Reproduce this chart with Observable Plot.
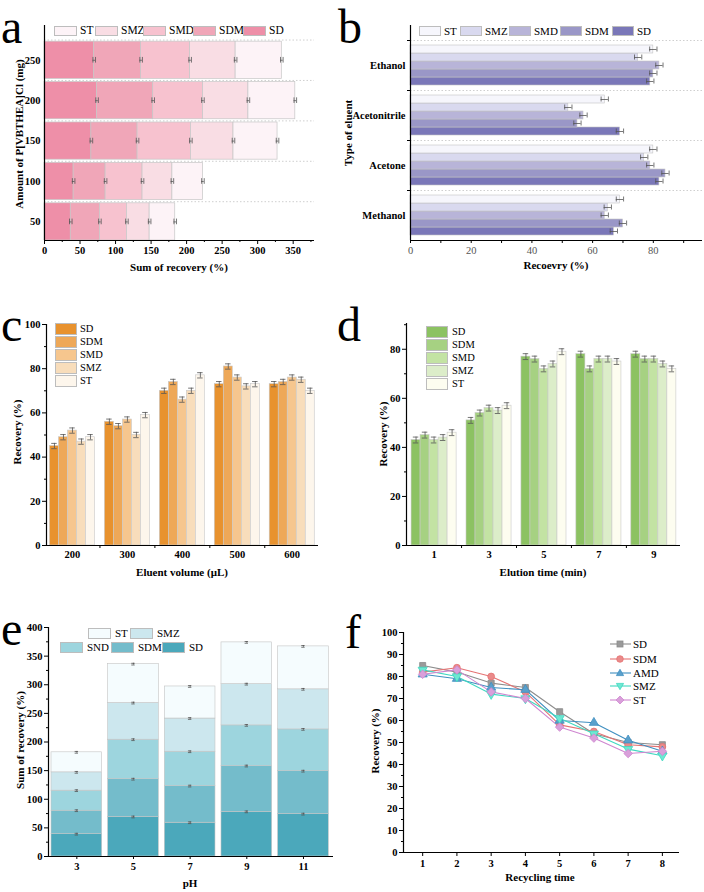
<!DOCTYPE html>
<html><head><meta charset="utf-8">
<script src="https://cdn.jsdelivr.net/npm/d3@7"></script>
<script src="https://cdn.jsdelivr.net/npm/@observablehq/plot@0.6"></script>
<style>
body{margin:0;background:#fff;}
#fig{position:relative;width:704px;height:892px;overflow:hidden;background:#fff;color:#000;}
</style></head><body><div id="fig"></div>
<script>
// ---------- DATA ----------
// (a) stacked horizontal bars: amount of P[VBTHEA]Cl (mg)
const aAmounts = ["250","200","150","100","50"];
const aSeries = ["SD","SDM","SMD","SMZ","ST"];
const aSD  = [70,74,66,41,37];
const aSDM = [66,79,65,45,41];
const aSMD = [69,70,75,52,38];
const aSMZ = [64,64,60,42,32];
const aST  = [65,66,62,43,36];
const aColors = ["#ee8fa8","#f0a6b8","#f7c2cf","#f9dde4","#fdf3f7"];

// (b) grouped horizontal bars: type of eluent
const bEluents = ["Ethanol","Acetonitrile","Acetone","Methanol"];
const bSeries = ["ST","SMZ","SMD","SDM","SD"];
const bSD  = [79,69,82,67];
const bSDM = [80,55,84,70];
const bSMD = [82,57,79,64];
const bSMZ = [75,52,77,65];
const bST  = [80,64,80,69];
const bColors = ["#f6f6fc","#d9d9ef","#b8b4d8","#9a97c7","#7a77b8"];

// (c) eluent volume (µL)
const cGroups = ["200","300","400","500","600"];
const cSeries = ["SD","SDM","SMD","SMZ","ST"];
const cSD  = [45,56,70,73,73];
const cSDM = [49,54,74,81,74];
const cSMD = [52,57,66,76,76];
const cSMZ = [47,50,70,72,75];
const cST  = [49,59,77,73,70];
const cColors = ["#e8922e","#eea858","#f6c68e","#f8ddbb","#fdf6ec"];

// (d) elution time (min)
const dGroups = ["1","3","5","7","9"];
const dSeries = ["SD","SDM","SMD","SMZ","ST"];
const dSD  = [43,51,77,78,78];
const dSDM = [45,54,76,72,76];
const dSMD = [43,56,72,76,76];
const dSMZ = [44,55,74,76,74];
const dST  = [46,57,79,75,72];
const dColors = ["#8cc262","#a6d182","#c3e3a3","#dcedc9","#fdfdf0"];

// (e) pH, stacked
const ePH = ["3","5","7","9","11"];
const eSeries = ["SD","SDM","SND","SMZ","ST"];
const eSD  = [39,69,59,78,74];
const eSDM = [41,66,64,80,75];
const eSND = [35,69,60,71,73];
const eSMZ = [32,64,58,72,70];
const eST  = [35,68,56,73,75];
const eColors = ["#4ba8bb","#74bccb","#9dd5de","#cce7ee","#f5fcfe"];

// (f) recycling
const fTimes = [1,2,3,4,5,6,7,8];
const fSeries = ["SD","SDM","AMD","SMZ","ST"];
const fSD  = [85,82,77,75,64,54,50,49];
const fSDM = [82,84,80,73,58,55,49,48];
const fAMD = [81,79,75,74,60,59,51,46];
const fSMZ = [83,80,72,70,61,54,47,44];
const fST  = [81,83,73,70,57,52,45,46];
const fLineColors = ["#8c8c8c","#e57373","#3f8fc0","#3fd8c0","#cf86d0"];
const fFillColors = ["#9a9a9a","#ea8a8a","#5aa0cc","#6ee8d2","#d9a0da"];

// ---------- HELPERS ----------
const FONT = '"Liberation Serif","Times New Roman",serif';
const fig = document.getElementById("fig");
const baseStyle = {fontFamily: FONT, fontSize: "10.5px", color: "#000", background: "transparent", overflow: "visible"};
const ERR = "#555";

function mount(plot, left, top, w) {
  const d = document.createElement("div");
  d.style.cssText = `position:absolute;left:${left}px;top:${top}px;width:${w}px;`;
  d.appendChild(plot); fig.appendChild(d);
}
function title(txt, cx, cy, rotate=false, size=11) {
  const d = document.createElement("div");
  d.textContent = txt;
  d.style.cssText = `position:absolute;left:${cx}px;top:${cy}px;transform:translate(-50%,-50%)${rotate?" rotate(-90deg)":""};font:bold ${size}px ${FONT};white-space:nowrap;line-height:1;`;
  fig.appendChild(d);
}
// panel letter placed by its baseline
function letter(ch, left, baseline, size=48) {
  const d = document.createElement("div");
  d.textContent = ch;
  d.style.cssText = `position:absolute;left:${left}px;top:${baseline - 0.7125 * size}px;font:${size}px/0.75 ${FONT};`;
  fig.appendChild(d);
}
function swatch(txt, color, x, y, w=22, h=11, size=11, gap=3) {
  const box = document.createElement("div");
  box.style.cssText = `position:absolute;left:${x}px;top:${y-h/2}px;width:${w}px;height:${h}px;background:${color};border:1px solid #bdbdbd;box-sizing:border-box;`;
  const t = document.createElement("div");
  t.textContent = txt;
  t.style.cssText = `position:absolute;left:${x+w+gap}px;top:${y}px;transform:translateY(-50%);font:${size}px/1 ${FONT};white-space:nowrap;`;
  fig.append(box, t);
}
function groupedRows(groups, series, vals, groupWidth) {
  const bw = groupWidth / series.length, rows = [];
  groups.forEach((g, i) => series.forEach((s, j) => {
    const x1 = i - groupWidth / 2 + j * bw;
    rows.push({group: g, series: s, value: vals[j][i], x1, x2: x1 + bw, xc: x1 + bw / 2});
  }));
  return rows;
}
function errY(rows, e, cap, xk="xc", vk="value") {
  return [
    Plot.ruleX(rows, {x: xk, y1: d => d[vk] - e, y2: d => d[vk] + e, stroke: ERR, strokeWidth: 0.8}),
    Plot.ruleY(rows, {y: d => d[vk] + e, x1: d => d[xk] - cap, x2: d => d[xk] + cap, stroke: ERR, strokeWidth: 0.8}),
    Plot.ruleY(rows, {y: d => d[vk] - e, x1: d => d[xk] - cap, x2: d => d[xk] + cap, stroke: ERR, strokeWidth: 0.8})
  ];
}
function errX(rows, e, cap, yk, vk) {
  return [
    Plot.ruleY(rows, {y: yk, x1: d => d[vk] - e, x2: d => d[vk] + e, stroke: ERR, strokeWidth: 0.8}),
    Plot.ruleX(rows, {x: d => d[vk] + e, y1: d => d[yk] - cap, y2: d => d[yk] + cap, stroke: ERR, strokeWidth: 0.8}),
    Plot.ruleX(rows, {x: d => d[vk] - e, y1: d => d[yk] - cap, y2: d => d[yk] + cap, stroke: ERR, strokeWidth: 0.8})
  ];
}
const blank = () => "";

// ---------- PANEL A ----------
{
  const vals = [aSD, aSDM, aSMD, aSMZ, aST];
  const rows = [];
  aAmounts.forEach((amt, i) => {
    let acc = 0;
    aSeries.forEach((s, j) => {
      const v = vals[j][i];
      rows.push({amt, pos: aAmounts.length - 1 - i, series: s, x1: acc, x2: acc + v});
      acc += v;
    });
  });
  const half = 0.46;
  const p = Plot.plot({
    width: 330, height: 290, marginLeft: 44, marginRight: 16, marginTop: 25, marginBottom: 50,
    style: baseStyle,
    x: {domain: [0, 380]},
    y: {domain: [-half, 4.86]},
    color: {domain: aSeries, range: aColors},
    marks: [
      Plot.ruleY([0.5, 1.5, 2.5, 3.5, 4.5], {stroke: "#cfcfcf", strokeDasharray: "1.5,2"}),
      Plot.rect(rows, {x1: "x1", x2: "x2", y1: d => d.pos - half, y2: d => d.pos + half, fill: "series", stroke: "#c6c6c6", strokeWidth: 0.7}),
      ...errX(rows, 1.8, 0.07, "pos", "x2"),
      Plot.axisX({ticks: d3.range(0, 351, 50), tickSize: 4, tickPadding: 2, fontWeight: "bold", label: null}),
      Plot.axisX({ticks: d3.range(25, 380, 50), tickSize: 2, tickFormat: blank, label: null}),
      Plot.axisY({ticks: [0, 1, 2, 3, 4], tickFormat: i => aAmounts[4 - i], tickSize: 0, tickPadding: 4, fontWeight: "bold", label: null}),
      Plot.ruleX([0], {strokeWidth: 1.2}),
      Plot.ruleY([-half], {strokeWidth: 1.2})
    ]
  });
  mount(p, 0, 0, 330);
  title("Sum of recovery (%)", 179, 267);
  title("Amount of  P[VBTHEA]Cl (mg)", 19, 134, true);
  const lx = [54, 95, 143, 193, 243];
  ["ST","SMZ","SMD","SDM","SD"].forEach((s, k) => swatch(s, aColors[aSeries.indexOf(s)], lx[k], 31, 23, 10, 11.5, 3));
  letter("a", 1, 43);
}

// ---------- PANEL B ----------
{
  const vals = {SD: bSD, SDM: bSDM, SMD: bSMD, SMZ: bSMZ, ST: bST};
  const bottomUp = ["SD","SDM","SMD","SMZ","ST"];
  const bh = 0.16, rows = [];
  bEluents.forEach((el, i) => {
    const g = bEluents.length - 1 - i;
    bottomUp.forEach((s, j) => {
      const y1 = g - 0.4 + j * bh;
      rows.push({eluent: el, series: s, value: vals[s][i], y1, y2: y1 + bh, yc: y1 + bh / 2});
    });
  });
  const p = Plot.plot({
    width: 368, height: 290, marginLeft: 74, marginRight: 2, marginTop: 25, marginBottom: 50,
    style: baseStyle,
    x: {domain: [0, 96.2]},
    y: {domain: [-0.5, 3.8]},
    color: {domain: bSeries, range: bColors},
    marks: [
      Plot.ruleY([0.5, 1.5, 2.5, 3.5], {stroke: "#cfcfcf", strokeDasharray: "1.5,2"}),
      Plot.rect(rows, {y1: "y1", y2: "y2", x1: 0, x2: "value", fill: "series", stroke: "#c4c4c4", strokeWidth: 0.6}),
      ...errX(rows, 1.2, 0.05, "yc", "value"),
      Plot.axisX({ticks: [0, 20, 40, 60, 80], tickSize: 0, tickPadding: 6, label: null, color: "#555"}),
      Plot.axisX({ticks: d3.range(0, 96, 10), tickSize: 3, tickFormat: blank, label: null}),
      Plot.axisY({ticks: [0, 1, 2, 3], tickFormat: g => bEluents[3 - g], tickSize: 0, tickPadding: 5, fontWeight: "bold", label: null}),
      Plot.axisY({ticks: [0.5, 1.5, 2.5, 3.5], tickSize: 3, tickFormat: blank, label: null}),
      Plot.ruleX([0], {strokeWidth: 1.2}),
      Plot.ruleY([-0.5], {strokeWidth: 1.2})
    ]
  });
  mount(p, 336, 0, 368);
  title("Recoevry (%)", 556, 265);
  title("Type of eluent", 348, 133, true);
  const lx = [419, 460, 509, 560, 612];
  bSeries.forEach((s, k) => swatch(s, bColors[k], lx[k], 31, 22, 10, 11, 3));
  letter("b", 338, 43);
}

// ---------- PANEL C ----------
{
  const rows = groupedRows(cGroups, cSeries, [cSD, cSDM, cSMD, cSMZ, cST], 0.82);
  const p = Plot.plot({
    width: 330, height: 300, marginLeft: 46, marginRight: 12, marginTop: 34, marginBottom: 45,
    style: baseStyle,
    x: {domain: [-0.473, 4.478]},
    y: {domain: [0, 100]},
    color: {domain: cSeries, range: cColors},
    marks: [
      Plot.rect(rows, {x1: "x1", x2: "x2", y1: 0, y2: "value", fill: "series", stroke: "#c9c9c9", strokeWidth: 0.6}),
      ...errY(rows, 1.2, 0.05),
      Plot.axisY({ticks: d3.range(0, 101, 20), tickSize: 4, tickPadding: 2, fontWeight: "bold", label: null}),
      Plot.axisY({ticks: d3.range(10, 100, 20), tickSize: 2, tickFormat: blank, label: null}),
      Plot.axisX({ticks: d3.range(5), tickFormat: i => cGroups[i], tickSize: 0, tickPadding: 5, fontWeight: "bold", label: null}),
      Plot.axisX({ticks: [0.5, 1.5, 2.5, 3.5], tickSize: 3, tickFormat: blank, label: null}),
      Plot.ruleX([-0.473], {strokeWidth: 1.2}),
      Plot.ruleY([0], {strokeWidth: 1.2})
    ]
  });
  mount(p, 0, 290, 330);
  title("Eluent volume (\u03bcL)", 182, 572);
  title("Recovery (%)", 17, 432, true);
  const ly = [329.3, 342.3, 355.3, 368.3, 381.3];
  cSeries.forEach((s, k) => swatch(s, cColors[k], 55, ly[k], 22, 12, 10.5, 3));
  letter("c", 1, 341);
}

// ---------- PANEL D ----------
{
  const rows = groupedRows(dGroups, dSeries, [dSD, dSDM, dSMD, dSMZ, dST], 0.82);
  const p = Plot.plot({
    width: 344, height: 300, marginLeft: 46, marginRight: 24, marginTop: 33, marginBottom: 45,
    style: baseStyle,
    x: {domain: [-0.502, 4.485]},
    y: {domain: [0, 90.5]},
    color: {domain: dSeries, range: dColors},
    marks: [
      Plot.rect(rows, {x1: "x1", x2: "x2", y1: 0, y2: "value", fill: "series", stroke: "#c9c9c9", strokeWidth: 0.6}),
      ...errY(rows, 1.2, 0.05),
      Plot.axisY({ticks: d3.range(0, 81, 20), tickSize: 4, tickPadding: 2, fontWeight: "bold", label: null}),
      Plot.axisY({ticks: d3.range(10, 91, 20), tickSize: 2, tickFormat: blank, label: null}),
      Plot.axisX({ticks: d3.range(5), tickFormat: i => dGroups[i], tickSize: 0, tickPadding: 5, fontWeight: "bold", label: null}),
      Plot.axisX({ticks: [0.5, 1.5, 2.5, 3.5], tickSize: 3, tickFormat: blank, label: null}),
      Plot.ruleX([-0.502], {strokeWidth: 1.2}),
      Plot.ruleY([0], {strokeWidth: 1.2})
    ]
  });
  mount(p, 360, 290, 344);
  title("Elution time (min)", 543, 572);
  title("Recovery (%)", 383, 434, true);
  const ly = [332.3, 345.2, 358, 370.7, 383.7];
  dSeries.forEach((s, k) => swatch(s, dColors[k], 426, ly[k], 22, 12, 10.5, 4));
  letter("d", 337, 341);
}

// ---------- PANEL E ----------
{
  const vals = [eSD, eSDM, eSND, eSMZ, eST];
  const rows = [];
  ePH.forEach((p, i) => {
    let acc = 0;
    eSeries.forEach((s, j) => {
      const v = vals[j][i];
      rows.push({ph: p, i, series: s, y1: acc, y2: acc + v});
      acc += v;
    });
  });
  const half = 0.447;
  const p = Plot.plot({
    width: 340, height: 302, marginLeft: 48, marginRight: 7, marginTop: 37, marginBottom: 36,
    style: baseStyle,
    x: {domain: [-0.5, 4.53]},
    y: {domain: [0, 400]},
    color: {domain: eSeries, range: eColors},
    marks: [
      Plot.rect(rows, {x1: d => d.i - half, x2: d => d.i + half, y1: "y1", y2: "y2", fill: "series", stroke: "#c4c4c4", strokeWidth: 0.6}),
      ...errY(rows, 1.5, 0.03, "i", "y2"),
      Plot.axisY({ticks: d3.range(0, 401, 50), tickSize: 4, tickPadding: 2, fontWeight: "bold", label: null}),
      Plot.axisY({ticks: d3.range(25, 400, 50), tickSize: 2, tickFormat: blank, label: null}),
      Plot.axisX({ticks: d3.range(5), tickFormat: i => ePH[i], tickSize: 3, tickPadding: 3, fontWeight: "bold", label: null}),
      Plot.ruleX([-0.5], {strokeWidth: 1.2}),
      Plot.ruleY([0], {strokeWidth: 1.2})
    ]
  });
  mount(p, 0, 590, 340);
  title("pH", 190, 883);
  title("Sum of recovery (%)", 20, 740, true);
  const col = s => eColors[eSeries.indexOf(s)];
  swatch("ST", col("ST"), 88, 633, 23, 11, 11, 4);
  swatch("SMZ", col("SMZ"), 130, 633, 23, 11, 11, 4);
  swatch("SND", col("SND"), 60, 647, 23, 11, 11, 4);
  swatch("SDM", col("SDM"), 111, 647, 23, 11, 11, 4);
  swatch("SD", col("SD"), 162, 647, 23, 11, 11, 4);
  letter("e", 1, 645);
}

// ---------- PANEL F ----------
{
  const vals = [fSD, fSDM, fAMD, fSMZ, fST];
  const rows = [];
  fSeries.forEach((s, j) => fTimes.forEach((t, i) => rows.push({series: s, t, v: vals[j][i]})));
  const lineC = s => fLineColors[fSeries.indexOf(s)];
  const fillC = s => fFillColors[fSeries.indexOf(s)];
  const rot = {SD: 0, SDM: 0, AMD: 0, SMZ: 180, ST: 45};
  const p = Plot.plot({
    width: 344, height: 302, marginLeft: 43, marginRight: 25, marginTop: 42, marginBottom: 40,
    style: baseStyle,
    x: {domain: [0.44, 8.5]},
    y: {domain: [0, 100]},
    symbol: {domain: fSeries, range: ["square", "circle", "triangle", "triangle", "square"]},
    marks: [
      Plot.line(rows, {x: "t", y: "v", z: "series", stroke: d => lineC(d.series), strokeWidth: 1.1}),
      Plot.dot(rows, {x: "t", y: "v", symbol: "series", rotate: d => rot[d.series], fill: d => fillC(d.series), stroke: d => lineC(d.series), strokeWidth: 0.8, r: 3.4}),
      Plot.axisY({ticks: d3.range(0, 101, 10), tickSize: 4, tickPadding: 2, fontWeight: "bold", label: null}),
      Plot.axisY({ticks: d3.range(5, 100, 10), tickSize: 2, tickFormat: blank, label: null}),
      Plot.axisX({ticks: fTimes, tickSize: 4, tickPadding: 3, fontWeight: "bold", label: null}),
      Plot.ruleX([0.44], {strokeWidth: 1.2}),
      Plot.ruleY([0], {strokeWidth: 1.2})
    ]
  });
  mount(p, 360, 590, 344);
  title("Recycling time", 540, 877);
  title("Recovery (%)", 375, 741, true);
  // legend
  const ly = [644.3, 659.3, 672.7, 686.3, 700.3];
  const shapes = {
    SD: '<rect x="7" y="2" width="6" height="6"/>',
    SDM: '<circle cx="10" cy="5" r="3.3"/>',
    AMD: '<path d="M10,1.3L13.6,7.6H6.4Z"/>',
    SMZ: '<path d="M10,8.7L13.6,2.4H6.4Z"/>',
    ST: '<path d="M10,1L14,5L10,9L6,5Z"/>'
  };
  fSeries.forEach((s, k) => {
    const d = document.createElement("div");
    d.style.cssText = `position:absolute;left:610px;top:${ly[k]-5}px;width:21px;height:10px;`;
    d.innerHTML = `<svg width="21" height="10" style="display:block;overflow:visible"><line x1="0" y1="5" x2="21" y2="5" stroke="${lineC(s)}" stroke-width="1.1"/><g fill="${fillC(s)}" stroke="${lineC(s)}" stroke-width="0.8">${shapes[s]}</g></svg>`;
    fig.appendChild(d);
    const t = document.createElement("div");
    t.textContent = s;
    t.style.cssText = `position:absolute;left:633px;top:${ly[k]}px;transform:translateY(-50%);font:11px/1 ${FONT};white-space:nowrap;`;
    fig.appendChild(t);
  });
  letter("f", 345, 648);
}
</script></body></html>
